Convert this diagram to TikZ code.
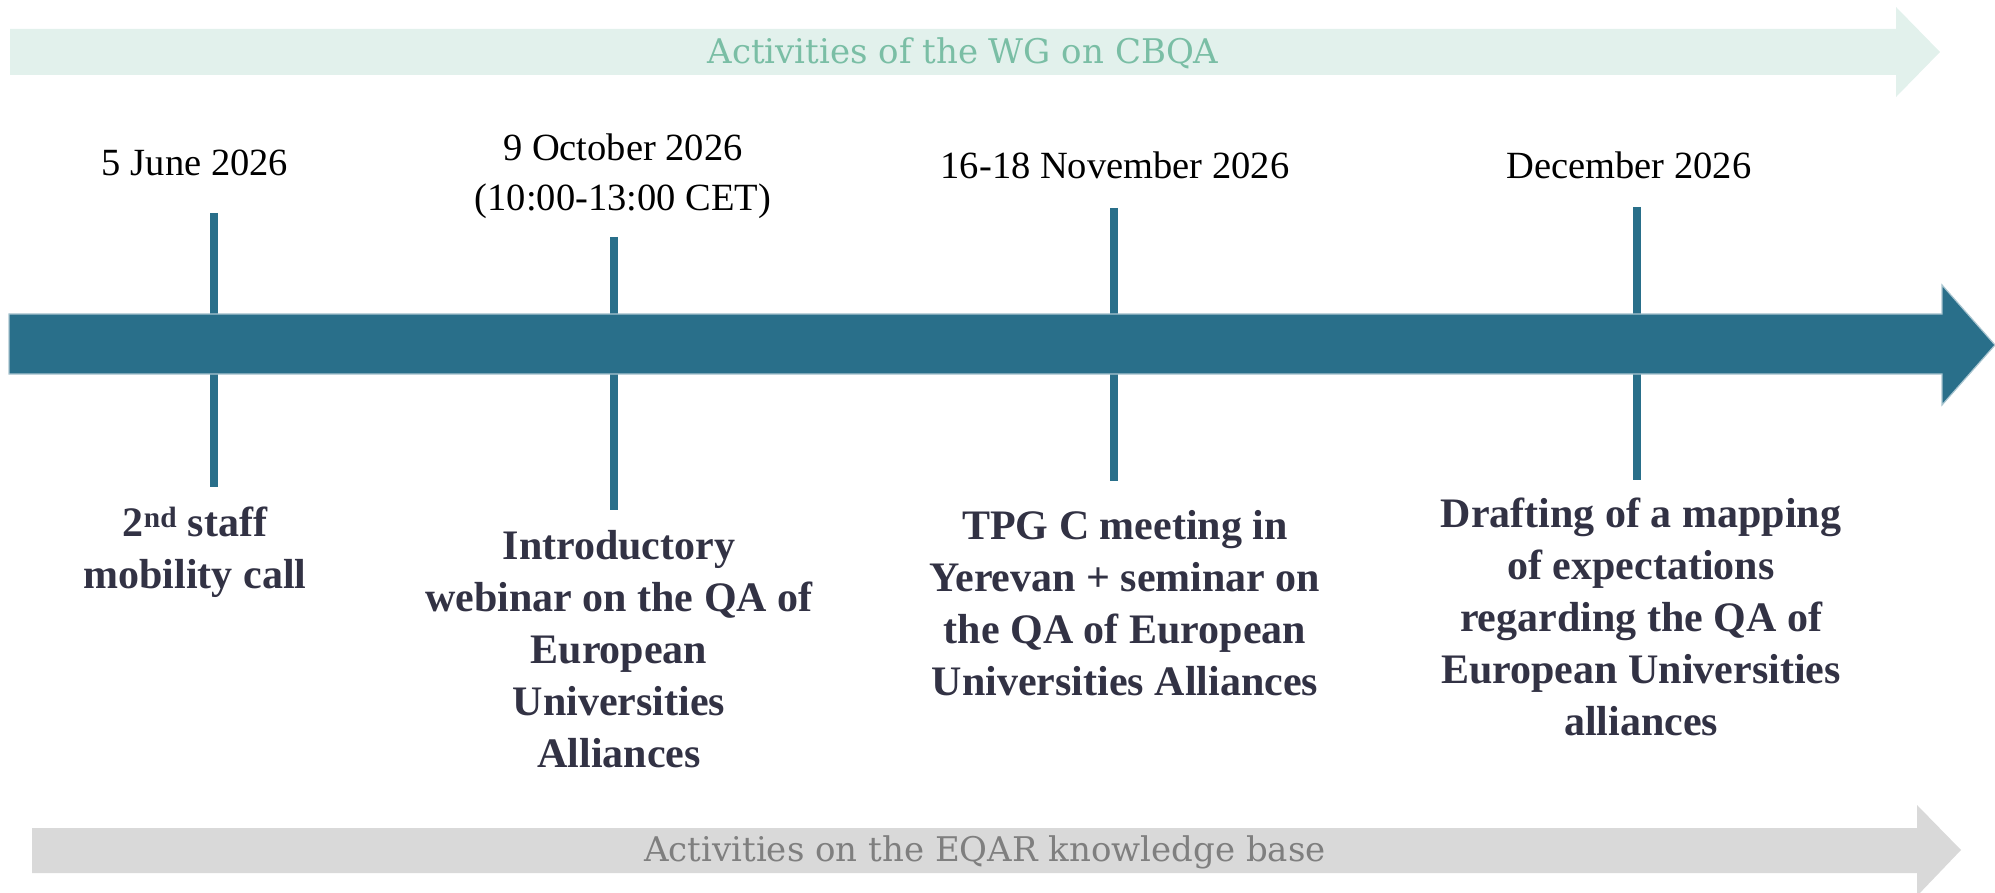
\documentclass[tikz,border=0pt]{standalone}
\usepackage{fontspec}
\setmainfont{Liberation Serif}
\newfontfamily\slabfont{DejaVu Serif}
\definecolor{tealmain}{RGB}{41,111,138}
\definecolor{topfill}{RGB}{226,241,236}
\definecolor{toptext}{RGB}{122,190,165}
\definecolor{botfill}{RGB}{217,217,217}
\definecolor{bottext}{RGB}{127,127,127}
\definecolor{labeltext}{RGB}{50,50,68}
\tikzset{
  datelabel/.style={font=\fontsize{38.5}{50}\selectfont, text=black, align=center, inner sep=0pt},
  eventlabel/.style={font=\fontsize{42}{52}\selectfont\bfseries, text=labeltext, align=center, inner sep=0pt},
  tickline/.style={draw=tealmain, line width=8pt},
  bandlabel/.style={font=\fontsize{34}{40}\selectfont\slabfont, inner sep=0pt}
}
\begin{document}
\begin{tikzpicture}[x=1pt,y=-1pt]
\useasboundingbox (0,0) rectangle (1995,893);
% top band arrow
\fill[topfill] (10,29) -- (1896,29) -- (1896,7) -- (1940,52) -- (1896,97) -- (1896,75) -- (10,75) -- cycle;
\node[bandlabel, text=toptext] (topband) at (963,53) {Activities of the WG on CBQA};
% bottom band arrow
\fill[botfill] (32,828) -- (1917,828) -- (1917,805) -- (1961,850) -- (1917,896) -- (1917,873) -- (32,873) -- cycle;
\node[bandlabel, text=bottext] (botband) at (985,852) {Activities on the EQAR knowledge base};
% ticks
\coordinate (t1a) at (214,213); \coordinate (t1b) at (214,487);
\coordinate (t2a) at (614,237); \coordinate (t2b) at (614,510);
\coordinate (t3a) at (1114,208); \coordinate (t3b) at (1114,481);
\coordinate (t4a) at (1637,207); \coordinate (t4b) at (1637,480);
\draw[tickline] (t1a) -- (t1b);
\draw[tickline] (t2a) -- (t2b);
\draw[tickline] (t3a) -- (t3b);
\draw[tickline] (t4a) -- (t4b);
% main arrow
\filldraw[fill=tealmain, draw=tealmain!40!white, line width=1.2pt] (9,314) -- (1942,314) -- (1942,285) -- (1995,345) -- (1942,405) -- (1942,374) -- (9,374) -- cycle;
% dates
\node[datelabel] (d1) at (195,163) {5 June 2026};
\node[datelabel] (d2) at (623,176) {9 October 2026\\(10:00-13:00 CET)};
\node[datelabel] (d3) at (1115,165) {16-18 November 2026};
\node[datelabel] (d4) at (1629,165) {December 2026};
% events
\node[eventlabel] (e1) at (195,552) {2\textsuperscript{nd} staff\\mobility call};
\node[eventlabel] (e2) at (619,649) {Introductory\\webinar on the QA of\\European\\Universities\\Alliances};
\node[eventlabel] (e3) at (1125,603) {TPG C meeting in\\Yerevan + seminar on\\the QA of European\\Universities Alliances};
\node[eventlabel] (e4) at (1641,617) {Drafting of a mapping\\of expectations\\regarding the QA of\\European Universities\\alliances};
\end{tikzpicture}
\end{document}
